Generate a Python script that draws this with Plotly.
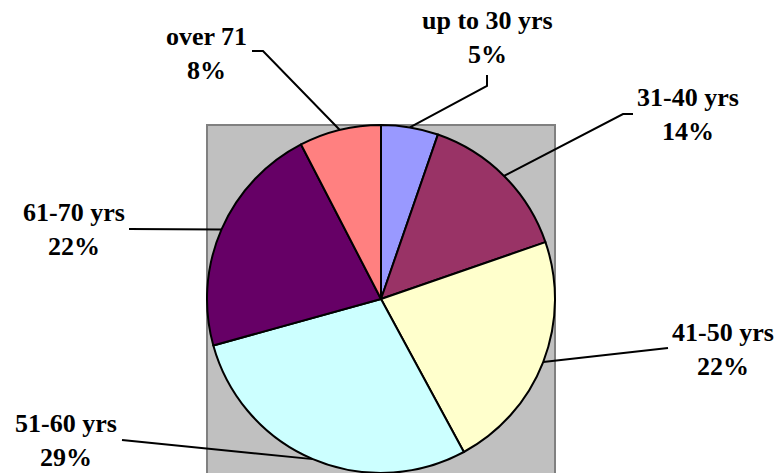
import math

import plotly.graph_objects as go

W, H = 777, 473

# slices, clockwise from 12 o'clock
age_groups = ["up to 30 yrs", "31-40 yrs", "41-50 yrs", "51-60 yrs", "61-70 yrs", "over 71"]
shares = [5.3, 14.4, 22.4, 28.6, 21.7, 7.6]
slice_colors = ["#9999FF", "#993366", "#FFFFCC", "#CCFFFF", "#660066", "#FF8080"]

# label block centres and leader-line bends (pixels from top-left)
label_pos = [(487, 37), (688, 115), (723, 349), (66, 440), (74, 230), (206, 53)]
leader_bends = [
    [(487, 86), (487, 75)],
    [(623, 114), (633, 114)],
    [(668, 348)],
    [(122, 440)],
    [(129, 229)],
    [(263, 51), (252, 51)],
]

cx, cy, r = 381, 299, 174


def px(x, y):
    return x / W, 1 - y / H


fig = go.Figure(
    go.Pie(
        labels=age_groups,
        values=shares,
        sort=False,
        direction="clockwise",
        rotation=0,
        textinfo="none",
        hoverinfo="label+percent",
        marker={"colors": slice_colors, "line": {"color": "black", "width": 2}},
        domain={"x": [(cx - r) / W, (cx + r) / W], "y": [0, 2 * r / H]},
        showlegend=False,
    )
)

# grey plot area behind the pie
x0, y0 = px(cx - r, cy - r)
x1, y1 = px(cx + r, cy + r + 4)
fig.add_shape(
    type="rect", xref="paper", yref="paper", x0=x0, y0=y1, x1=x1, y1=y0,
    fillcolor="#C0C0C0", line={"color": "#808080", "width": 2}, layer="below",
)

total = sum(shares)
start = 0.0
for name, val, (lx, ly), bends in zip(age_groups, shares, label_pos, leader_bends):
    mid = (start + val / 2) / total * 2 * math.pi
    start += val
    ex, ey = cx + r * math.sin(mid), cy - r * math.cos(mid)
    pts = [px(ex, ey)] + [px(bx, by) for bx, by in bends]
    path = "M " + " L ".join(f"{a:.5f},{b:.5f}" for a, b in pts)
    fig.add_shape(type="path", xref="paper", yref="paper", path=path,
                  line={"color": "black", "width": 2})
    ax, ay = px(lx, ly)
    fig.add_annotation(
        x=ax, y=ay, xref="paper", yref="paper", xanchor="center", yanchor="middle",
        text=f"<b>{name}<br>{round(val)}%</b>", showarrow=False, align="center",
        font={"family": "Liberation Serif, Times New Roman, serif", "size": 26, "color": "black"},
    )

fig.update_layout(
    width=W, height=H,
    margin={"l": 0, "r": 0, "t": 0, "b": 0},
    paper_bgcolor="white",
    plot_bgcolor="white",
)

# drop the browser's default body margin so the figure sits at the page corner
fig.write_html(
    "out.html",
    config={"displayModeBar": False},
    post_script="document.body.style.margin = '0';",
)
